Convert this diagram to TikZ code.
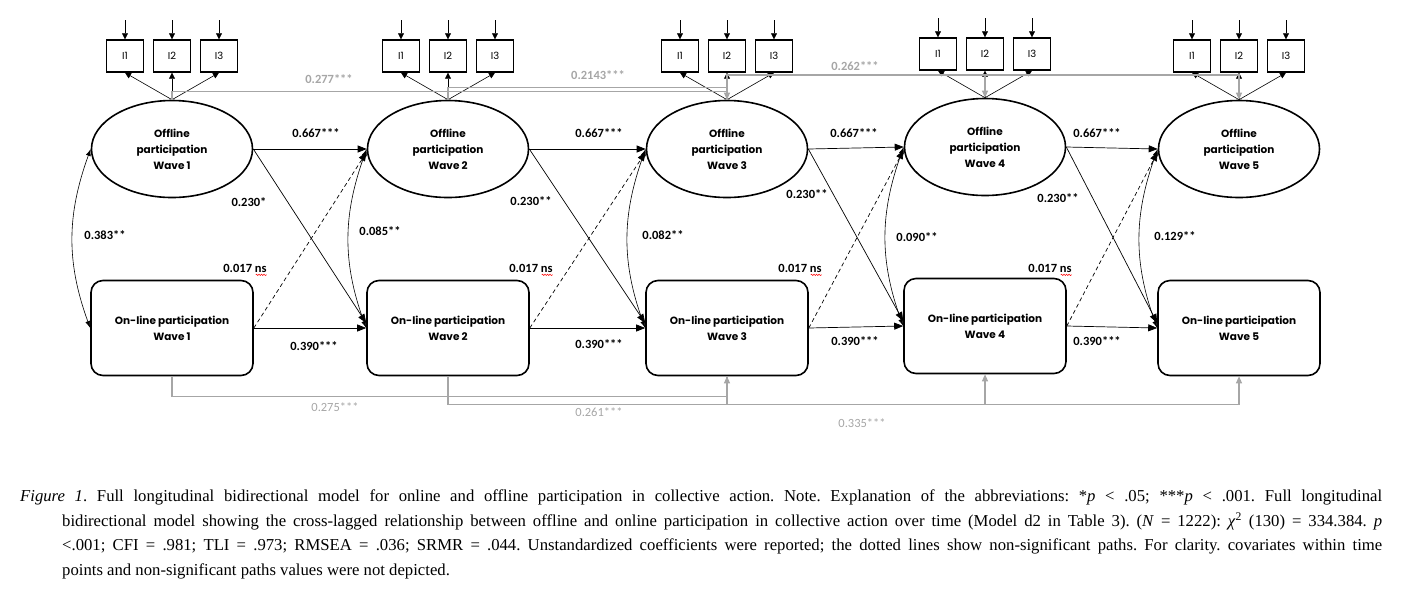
\documentclass[tikz,border=0pt]{standalone}
\usepackage{fontspec}
\setmainfont{Liberation Serif}
\setsansfont{Poppins}
\newfontfamily\coeffont{Carlito}
\usepackage{tikz}
\usetikzlibrary{arrows.meta,shapes.geometric,positioning,decorations.pathmorphing}
\definecolor{laggray}{RGB}{166,166,166}
\tikzset{
    latent-ellipse/.style = {draw, ellipse, line width=1.6pt, minimum width=161pt, minimum height=97pt, inner sep=0pt, align=center, font=\sffamily\bfseries\fontsize{10.5}{16}\selectfont},
    online-box/.style = {draw, rectangle, rounded corners=12pt, line width=1.6pt, minimum width=162pt, minimum height=95pt, align=center, font=\sffamily\bfseries\fontsize{10.5}{16}\selectfont},
    indicator-box/.style = {draw, rectangle, line width=1.4pt, minimum width=37pt, minimum height=32pt, inner sep=0pt, font=\sffamily\fontsize{10}{11}\selectfont},
    path-arrow/.style = {-{Triangle[length=9pt,width=7pt]}, line width=0.7pt},
    ns-arrow/.style = {path-arrow, dash pattern=on 4pt off 3pt},
    load-arrow/.style = {-{Triangle[length=6pt,width=6pt]}, line width=0.6pt},
    cov-arrow/.style = {{Latex[length=7pt,width=5pt]}-{Latex[length=7pt,width=5pt]}, line width=0.6pt},
    lag-line/.style = {draw=laggray, line width=1.1pt, -{Triangle[length=7pt,width=6pt]}},
    coef-label/.style = {font=\coeffont\bfseries\fontsize{12.5}{14}\selectfont, inner sep=1pt},
    lag-label/.style = {coef-label, text=laggray},
    lag-label-low/.style = {lag-label, font=\coeffont\fontsize{12.5}{14}\selectfont},
    spell-mark/.style = {draw=red, line width=0.5pt, decorate, decoration={snake, amplitude=0.7pt, segment length=2.5pt}},
}

\begin{document}
\begin{tikzpicture}[x=1pt, y=-1pt]
\useasboundingbox (0,0) rectangle (1412,590);

% five waves: latent offline, observed online, three indicators
\foreach \w/\x/\yo/\yn/\yi in {1/172/149/328/56, 2/448/149/328/56, 3/727/149/328/56, 4/985/147/326/54, 5/1239/149/328/56}{
    \node[latent-ellipse] (off\w) at (\x,\yo) {Offline\\participation\\Wave \w};
    \node[online-box] (on\w) at (\x,\yn) {On-line participation\\Wave \w};
    \foreach \k/\dx in {1/-47, 2/0, 3/47}{
        \node[indicator-box] (ind\w\k) at (\x+\dx,\yi) {I\k};
        \coordinate (err\w\k) at (\x+\dx,\yi-36);
        \draw[load-arrow] (err\w\k) -- (ind\w\k);
        \draw[load-arrow] (off\w.north) -- (ind\w\k.south);
    }
}

% lag-2 paths
\coordinate (lagtop) at (0,75);
\draw[lag-line] (off1.north) -- ++(0,-8) -| (off3.north);
\draw[lag-line] (off2.north) -- ++(0,-12) -| (off3.north |- lagtop) -| (off4.north);
\draw[lag-line] (off3.north) -- (off3.north |- lagtop) -| (off5.north);
\draw[lag-line] (on1.south) -- ++(0,20) -| (on3.south);
\draw[lag-line] (on2.south) -- ++(0,28) -| (on4.south);
\draw[lag-line] (on3.south) -- ++(0,28) -| (on5.south);

% cross-lagged paths and covariances
\draw[cov-arrow] (off1.west) to[out=250, in=110] (on1.west);
\foreach \a/\b in {1/2, 2/3, 3/4, 4/5}{
    \draw[path-arrow] (off\a.east) -- (off\b.west);
    \draw[path-arrow] (on\a.east) -- (on\b.west);
    \draw[path-arrow] (off\a.east) -- ([yshift=5pt]on\b.west);
    \draw[ns-arrow] (on\a.east) -- ([yshift=-3pt]off\b.west);
    \draw[cov-arrow] (off\b.west) to[out=250, in=110] (on\b.west);
}

% coefficients
\node[coef-label] (ar12) at (316,133) {0.667***};
\node[coef-label] (ar23) at (599,133) {0.667***};
\node[coef-label] (ar34) at (854,133) {0.667***};
\node[coef-label] (ar45) at (1097,133) {0.667***};
\node[coef-label] (ao12) at (314,346) {0.390***};
\node[coef-label] (ao23) at (599,344) {0.390***};
\node[coef-label] (ao34) at (855,341) {0.390***};
\node[coef-label] (ao45) at (1097,341) {0.390***};
\node[coef-label] (cl12) at (249,202) {0.230*};
\node[coef-label] (cl23) at (531,201) {0.230**};
\node[coef-label] (cl34) at (807,194) {0.230**};
\node[coef-label] (cl45) at (1058,198) {0.230**};
\node[coef-label] (ns12) at (245,268) {0.017 ns};
\node[coef-label] (ns23) at (531,268) {0.017 ns};
\node[coef-label] (ns34) at (800,268) {0.017 ns};
\node[coef-label] (ns45) at (1050,268) {0.017 ns};
\foreach \n in {ns12, ns23, ns34, ns45}{
    \draw[spell-mark] ([xshift=-12pt,yshift=-1.5pt]\n.south east) -- ([xshift=-1pt,yshift=-1.5pt]\n.south east);
}
\node[coef-label] (cov1) at (105,235) {0.383**};
\node[coef-label] (cov2) at (380,231) {0.085**};
\node[coef-label] (cov3) at (663,235) {0.082**};
\node[coef-label] (cov4) at (917,237) {0.090**};
\node[coef-label] (cov5) at (1175,236) {0.129**};
\node[lag-label] (lr13) at (329,79) {0.277***};
\node[lag-label] (lr24) at (598,75) {0.2143***};
\node[lag-label] (lr35) at (855,66) {0.262***};
\node[lag-label-low] (lo13) at (335,407) {0.275***};
\node[lag-label-low] (lo24) at (599,412) {0.261***};
\node[lag-label-low] (lo35) at (862,423) {0.335***};

% caption
\node[anchor=north west, inner sep=0pt, font=\fontsize{16.7}{24.5}\selectfont] (caption) at (20,490) {\parbox[t]{1362pt}{\frenchspacing\hangindent=42pt\hangafter=1 \textit{Figure 1}. Full longitudinal bidirectional model for online and offline participation in collective action. Note. Explanation of the abbreviations: *\textit{p} < .05; ***\textit{p} < .001. Full longitudinal\linebreak bidirectional model showing the cross-lagged relationship between offline and online participation in collective action over time (Model d2 in Table 3). (\textit{N} = 1222): \textit{χ}\textsuperscript{2} (130) = 334.384. \textit{p}\linebreak <.001; CFI = .981; TLI = .973; RMSEA = .036; SRMR = .044. Unstandardized coefficients were reported; the dotted lines show non-significant paths. For clarity. covariates within time\linebreak points and non-significant paths values were not depicted.}};
\end{tikzpicture}
\end{document}
